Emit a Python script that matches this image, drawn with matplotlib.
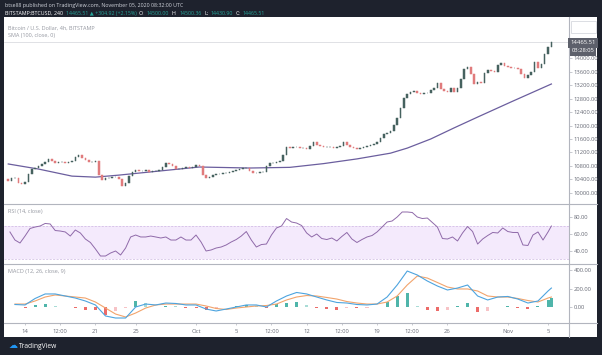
"""
plot.py - BTCUSD 4h TradingView snapshot with SMA, RSI and MACD panes.
"""
import numpy as np
import pandas as pd
import matplotlib
matplotlib.use("Agg")
import matplotlib.pyplot as plt
import matplotlib.dates as mdates
from matplotlib.patches import Rectangle
from matplotlib.lines import Line2D
from matplotlib.ticker import FuncFormatter

plt.rcParams["font.family"] = ["Open Sans", "DejaVu Sans"]

# closes, one per 8h, Sep 12 08:00 -> Nov 5 08:00 UTC
candle_start = "2020-09-12 08:00"
first_open = 10400
closes = [
    10360, 10440, 10440, 10300, 10270, 10330, 10560, 10710, 10740, 10800,
    10860, 10920, 11010, 10950, 10890, 10920, 10920, 10890, 10920, 10950,
    11070, 11130, 11040, 10980, 10920, 10920, 10950, 10530, 10390, 10440,
    10440, 10470, 10470, 10410, 10210, 10300, 10500, 10620, 10680, 10650,
    10650, 10680, 10620, 10650, 10650, 10680, 10770, 10890, 10860, 10800,
    10710, 10710, 10740, 10770, 10740, 10770, 10830, 10800, 10530, 10440,
    10470, 10530, 10560, 10560, 10590, 10590, 10620, 10650, 10680, 10710,
    10740, 10740, 10650, 10590, 10590, 10620, 10620, 10800, 10890, 10890,
    10920, 10950, 11130, 11360, 11330, 11360, 11360, 11330, 11330, 11300,
    11390, 11510, 11420, 11390, 11360, 11360, 11360, 11330, 11360, 11390,
    11510, 11420, 11360, 11330, 11300, 11330, 11360, 11390, 11420, 11450,
    11510, 11630, 11750, 11780, 11840, 12010, 12220, 12520, 12810, 12930,
    12990, 13020, 12960, 12930, 12960, 12960, 13050, 13110, 13260, 13080,
    13020, 12990, 13110, 12990, 13110, 13380, 13670, 13730, 13530, 13230,
    13290, 13260, 13560, 13640, 13610, 13590, 13790, 13850, 13760, 13730,
    13700, 13700, 13670, 13530, 13410, 13500, 13590, 13880, 13700, 13820,
    14120, 14330, 14465.51,
]
last_price = 14465.51

# SMA(100) read at a few candle positions
sma_idx = [0, 9, 19, 26, 33, 42, 57, 72, 84, 94, 104, 114, 119, 126, 133,
           140, 150, 162]
sma_vals = [10860, 10710, 10500, 10470, 10530, 10620, 10770, 10740, 10760,
            10870, 11010, 11180, 11330, 11600, 11930, 12250, 12700, 13230]

# RSI(14) every 12h from Sep 12 12:00 to Nov 5 00:00, then Nov 5 08:00
rsi_vals = [
    62.4, 52.9, 49.4, 57.6, 66.5, 68.2, 69.4, 72.4, 71.8, 64.1,
    63.5, 62.4, 57.6, 64.7, 61.2, 54.1, 50.0, 42.4, 34.1, 34.1,
    37.6, 40.0, 35.3, 43.5, 56.5, 58.8, 56.5, 56.5, 57.6, 56.5,
    55.3, 56.5, 52.9, 52.9, 56.5, 52.9, 52.9, 58.8, 50.6, 40.0,
    41.2, 43.5, 44.7, 47.1, 50.6, 53.5, 57.6, 62.9, 52.9, 44.7,
    47.6, 48.2, 58.8, 67.1, 69.4, 78.2, 74.1, 72.9, 70.0, 61.2,
    56.5, 60.0, 54.7, 53.5, 55.3, 51.8, 57.1, 61.8, 54.1, 50.0,
    53.5, 56.5, 58.2, 62.4, 68.2, 74.1, 75.3, 80.0, 85.9, 85.9,
    85.3, 80.0, 78.2, 78.8, 73.5, 68.2, 54.7, 54.1, 56.5, 51.8,
    61.2, 68.8, 62.9, 48.2, 54.1, 58.2, 61.8, 61.2, 67.1, 62.9,
    61.8, 61.8, 47.1, 46.5, 58.8, 62.4, 52.9, 62.4, 69.4,
]

# MACD(12, 26, 9) daily from Sep 13 to Nov 5, then Nov 5 08:00
macd_vals = [27, 22, 92, 141, 141, 119, 97, 65, 22, -97,
             -119, -119, 0, 32, 22, 43, 38, 22, 22, -22,
             -43, -22, 0, 22, 22, 0, 65, 119, 157, 141,
             108, 76, 49, 43, 27, 22, 32, 108, 238, 389,
             346, 281, 227, 184, 205, 238, 119, 76, 108, 114,
             86, 43, 65, 173, 205]
signal_vals = [32, 32, 65, 108, 130, 119, 108, 97, 54, -11,
               -76, -108, -65, -11, 22, 32, 32, 32, 32, 11,
               -16, -27, -11, 0, 11, 16, 32, 76, 108, 124,
               119, 103, 86, 59, 43, 32, 32, 54, 119, 238,
               335, 313, 265, 216, 195, 195, 173, 119, 108, 108,
               92, 70, 54, 97, 108]

price_ticks = [10000, 10400, 10800, 11200, 11600, 12000, 12400, 12800,
               13200, 13600, 14000]
rsi_ticks = [40, 60, 80]
macd_ticks = [0, 200, 400]
time_ticks = ["2020-09-14 00:00", "2020-09-17 12:00", "2020-09-21 00:00",
              "2020-09-25 00:00", "2020-10-01 00:00", "2020-10-05 00:00",
              "2020-10-08 12:00", "2020-10-12 00:00", "2020-10-15 12:00",
              "2020-10-19 00:00", "2020-10-22 12:00", "2020-10-26 00:00",
              "2020-11-01 00:00", "2020-11-05 00:00"]
time_labels = ["14", "12:00", "21", "25", "Oct", "5", "12:00", "12", "12:00",
               "19", "12:00", "26", "Nov", "5"]

# ---------------------------------------------------------------- layout
W, H = 602, 355
def fx(px): return px / W
def fy(py): return 1 - py / H

DARK = "#1e222d"
GRID = "#b2b5be"
TXT = "#6a6d78"
UP, DOWN = "#46625f", "#e07b7c"

fig = plt.figure(figsize=(W / 100, H / 100), dpi=100)
fig.patch.set_facecolor(DARK)
fig.add_artist(Rectangle((fx(4), fy(337)), fx(597) - fx(4), fy(17) - fy(337),
                         transform=fig.transFigure, facecolor="white",
                         edgecolor="none", zorder=-5))

L, R = 4, 569
ax_p = fig.add_axes([fx(L), fy(204), fx(R) - fx(L), fy(17) - fy(204)])
ax_r = fig.add_axes([fx(L), fy(264), fx(R) - fx(L), fy(204) - fy(264)], sharex=ax_p)
ax_m = fig.add_axes([fx(L), fy(323), fx(R) - fx(L), fy(264) - fy(323)], sharex=ax_p)

for ax in (ax_p, ax_r, ax_m):
    ax.set_facecolor("none")
    for s in ("top", "left", "bottom"):
        ax.spines[s].set_visible(False)
    ax.spines["right"].set_color(GRID)
    ax.spines["right"].set_linewidth(0.8)
    ax.yaxis.tick_right()
    ax.tick_params(axis="y", labelsize=4.2, labelcolor=TXT, color=GRID,
                   length=2, width=0.5, pad=1.5)
    ax.yaxis.set_major_formatter(FuncFormatter(lambda v, p: f"{v:.2f}"))
for ax in (ax_p, ax_r):
    ax.tick_params(axis="x", bottom=False, labelbottom=False)

# ---------------------------------------------------------------- price
times = pd.date_range(candle_start, periods=len(closes), freq="8h")
tnum = mdates.date2num(times)
closes_arr = np.array(closes, dtype=float)
opens = np.concatenate([[first_open], closes_arr[:-1]])
lows = np.minimum(opens, closes_arr)
heights = np.abs(closes_arr - opens)
cols = [UP if c >= o else DOWN for o, c in zip(opens, closes_arr)]
ax_p.bar(tnum, heights, bottom=lows, width=0.16, color=cols,
         edgecolor=cols, linewidth=0.35, zorder=3)
ax_p.plot(tnum[sma_idx], sma_vals, color="#6b5e9e", linewidth=0.9, zorder=2)
ax_p.axhline(last_price, color="#d3d5db", linewidth=0.5, zorder=1)
ax_p.set_ylim(9674, 15215)
ax_p.set_yticks(price_ticks)

left = mdates.date2num(pd.Timestamp("2020-09-11 21:50"))
right = mdates.date2num(pd.Timestamp("2020-11-07 02:00"))
ax_p.set_xlim(left, right)

# ---------------------------------------------------------------- RSI
rsi_times = list(pd.date_range("2020-09-12 12:00", "2020-11-05 00:00", freq="12h"))
rsi_times.append(pd.Timestamp("2020-11-05 08:00"))
ax_r.axhspan(30, 70, color="#f4eafc", linewidth=0, zorder=0)
for lvl in (70, 30):
    ax_r.axhline(lvl, color="#cdb6e2", linewidth=0.5, linestyle=(0, (3, 2)))
ax_r.plot(mdates.date2num(rsi_times), rsi_vals, color="#8f6aa9", linewidth=0.7)
ax_r.set_ylim(24.7, 95.3)
ax_r.set_yticks(rsi_ticks)

# ---------------------------------------------------------------- MACD
macd_times = list(pd.date_range("2020-09-13", "2020-11-05", freq="D"))
macd_times.append(pd.Timestamp("2020-11-05 08:00"))
mnum = mdates.date2num(macd_times)
hist = np.array(macd_vals, dtype=float) - np.array(signal_vals, dtype=float)
hcols = []
for i, h in enumerate(hist):
    prev = hist[i - 1] if i else 0
    if h >= 0:
        hcols.append("#4fb5aa" if h >= prev else "#a9dcd6")
    else:
        hcols.append("#ec6b69" if h <= prev else "#f7c3c6")
ax_m.bar(mnum, hist, width=0.3, color=hcols, linewidth=0, zorder=1)
ax_m.plot(mnum, macd_vals, color="#4da4df", linewidth=0.8, zorder=3)
ax_m.plot(mnum, signal_vals, color="#f2a46c", linewidth=0.8, zorder=2)
ax_m.set_ylim(-173, 465)
ax_m.set_yticks(macd_ticks)

ax_m.set_xticks(mdates.date2num(pd.to_datetime(time_ticks, format="%Y-%m-%d %H:%M")))
ax_m.set_xticklabels(time_labels)
ax_m.tick_params(axis="x", labelsize=4.2, labelcolor=TXT, color=GRID,
                 length=1.5, width=0.5, pad=3)

# ---------------------------------------------------------------- frame
for yy in (204, 264, 323):
    fig.add_artist(Line2D([fx(4), fx(597)], [fy(yy), fy(yy)], color=GRID,
                          linewidth=0.8, transform=fig.transFigure))
fig.add_artist(Line2D([fx(R), fx(R)], [fy(323), fy(337)], color=GRID,
                      linewidth=0.8, transform=fig.transFigure))
fig.add_artist(Rectangle((fx(571), fy(33)), fx(596) - fx(571), fy(21) - fy(33),
                         transform=fig.transFigure, fill=False,
                         edgecolor="#d6d8de", linewidth=0.6))

lab = "#9598a1"
fig.text(fx(8), fy(28), "Bitcoin / U.S. Dollar, 4h, BITSTAMP", fontsize=4,
         color=lab, va="center")
fig.text(fx(8), fy(35), "SMA (100, close, 0)", fontsize=4, color=lab, va="center")
fig.text(fx(8), fy(212), "RSI (14, close)", fontsize=4, color=lab, va="center")
fig.text(fx(8), fy(272), "MACD (12, 26, close, 9)", fontsize=4, color=lab,
         va="center")

fig.text(fx(583), fy(43), f"{last_price:.2f}", fontsize=4.2, color="white",
         ha="center", va="center",
         bbox=dict(boxstyle="square,pad=0.35", facecolor="#5d606b", edgecolor="none"))
fig.text(fx(583), fy(51), "03:28:05", fontsize=4.2, color="white",
         ha="center", va="center",
         bbox=dict(boxstyle="square,pad=0.35", facecolor="#5d606b", edgecolor="none"))

# header
fig.text(fx(5), fy(5.5), "btsell8 published on TradingView.com, November 05, 2020 08:32:00 UTC",
         fontsize=3.8, color="#d1d4dc", va="center")
renderer = fig.canvas.get_renderer()
teal = "#26a69a"
pieces = [("BITSTAMP:BTCUSD, 240", "white"),
          ("14465.51 \u25b2 +304.92 (+2.15%)", teal),
          ("O:", "white"), ("14500.00", teal),
          ("H:", "white"), ("14500.36", teal),
          ("L:", "white"), ("14430.90", teal),
          ("C:", "white"), ("14465.51", teal)]
x = 5
for s, c in pieces:
    t = fig.text(fx(x), fy(13.5), s, fontsize=3.8, color=c, va="center")
    x += t.get_window_extent(renderer).width + 2.5

# footer logo
fig.text(fx(9), fy(346), "\u2601", fontsize=6.5, color="#2196f3", va="center")
fig.text(fx(19), fy(346), "TradingView", fontsize=4.8, color="white", va="center")

fig.savefig("out.png", dpi=100, facecolor=fig.get_facecolor())
